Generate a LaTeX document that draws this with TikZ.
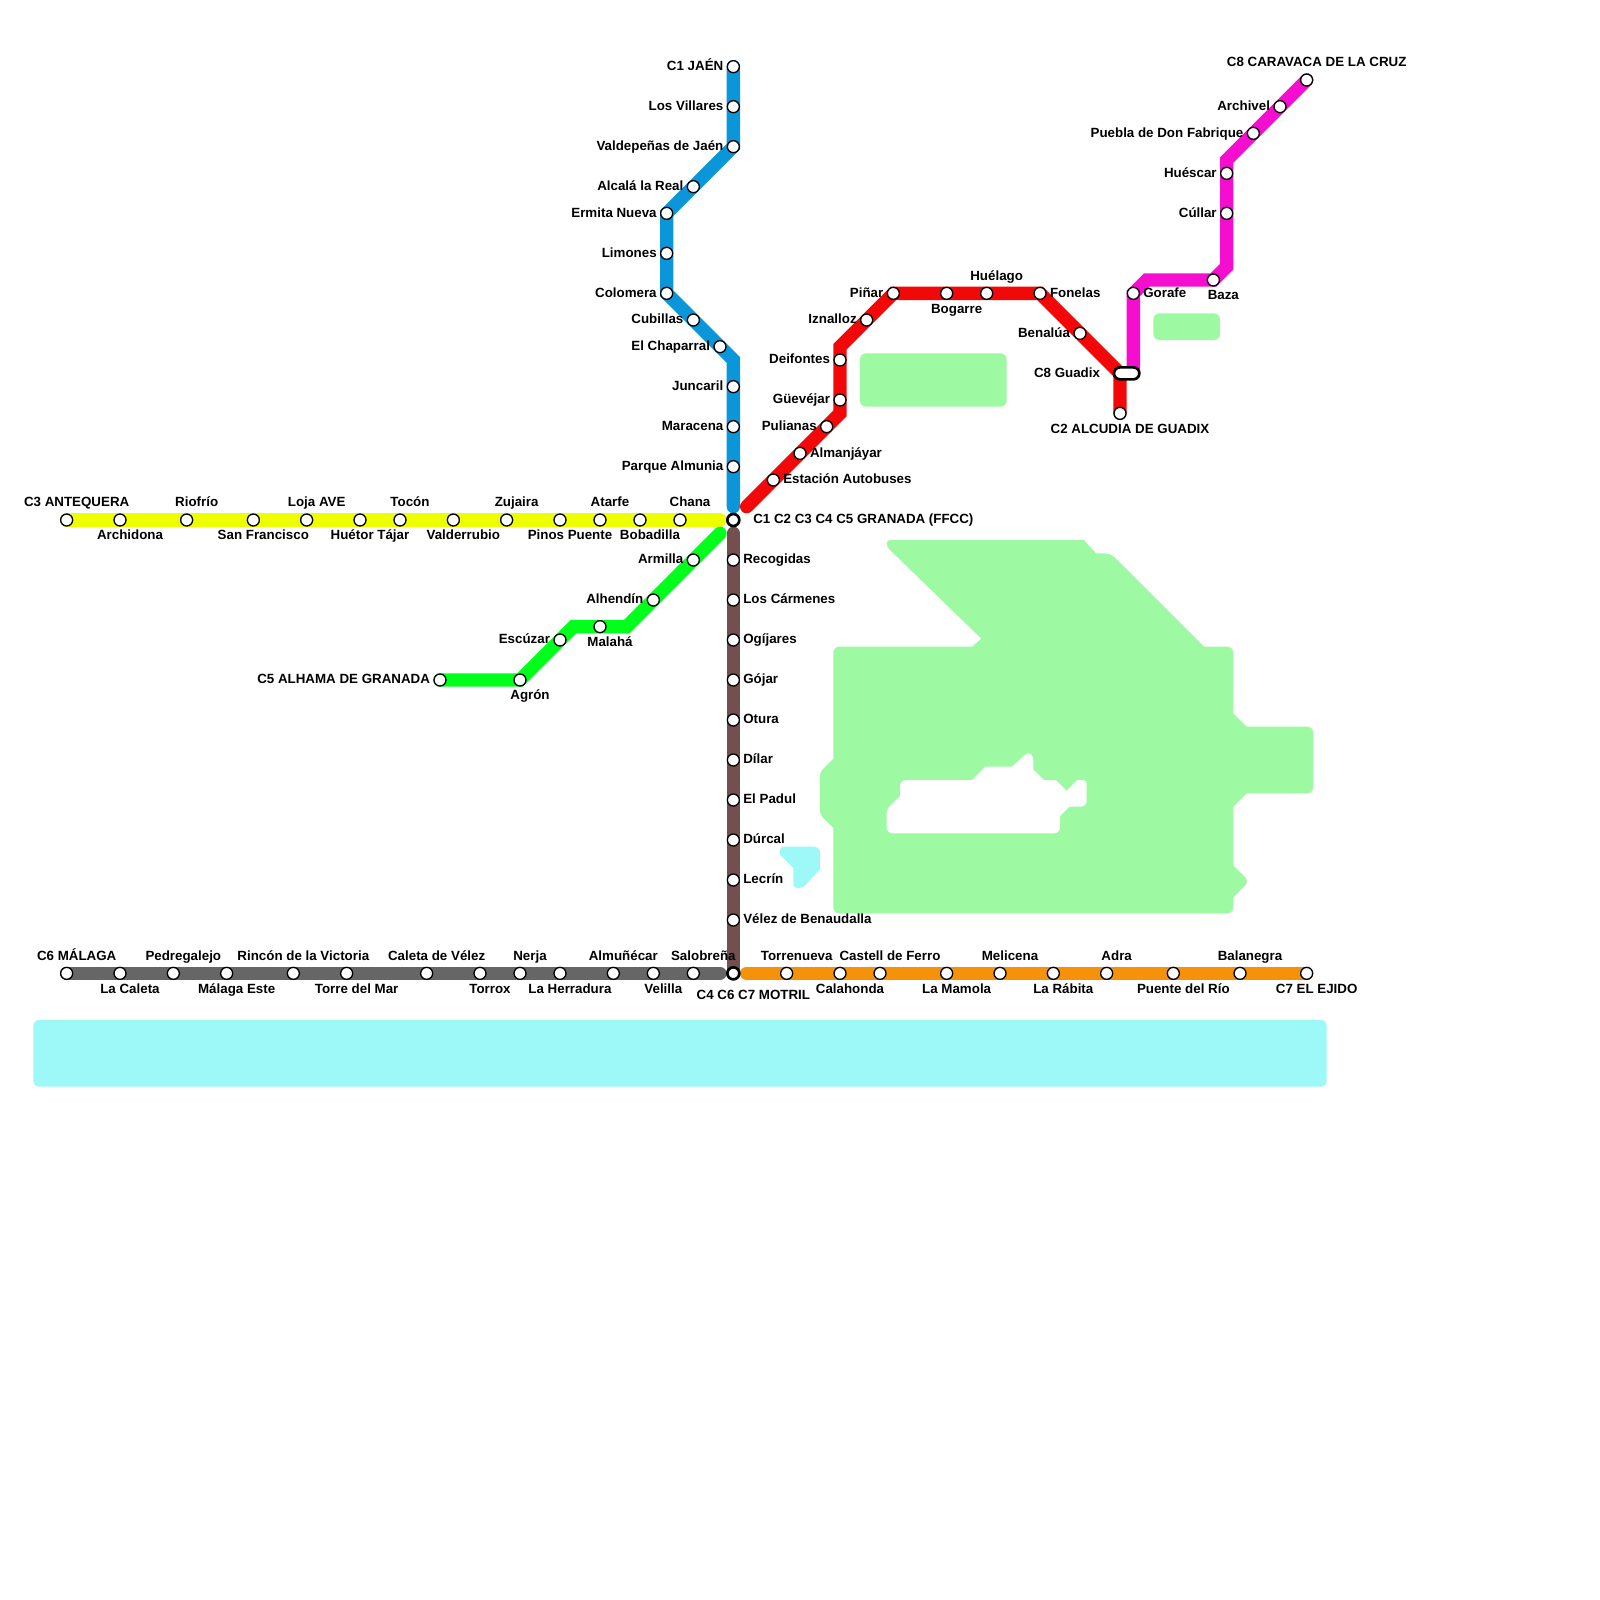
\documentclass[tikz,border=0pt]{standalone}
\usepackage{fontspec}
\setmainfont{Liberation Sans}
\pgfdeclarelayer{areas}
\pgfdeclarelayer{lines}
\pgfsetlayers{areas,lines,main}
\tikzset{
  stn/.style={circle,draw=black,fill=white,line width=0.67pt,inner sep=0pt,outer sep=0pt,minimum size=6pt},
  hub/.style={stn,line width=1.33pt},
  pill/.style={rectangle,draw=black,fill=white,line width=1.33pt,inner sep=0pt,outer sep=0pt,minimum width=12.67pt,minimum height=6pt,rounded corners=3pt},
  lbl/.style={inner sep=0pt,outer sep=0pt,font=\fontsize{6.67pt}{8pt}\selectfont\bfseries,text=black},
  metro/.style={line width=6.67pt,line cap=round,line join=miter},
  cv/.style={rounded corners=3pt},
  cs/.style={rounded corners=1.8pt},
  cc/.style={sharp corners},
  landarea/.style={fill=landgreen},
  seaarea/.style={fill=seacyan},
}
\definecolor{cyellow}{HTML}{EEFF00}
\definecolor{cblue}{HTML}{0A96D8}
\definecolor{cred}{HTML}{F20808}
\definecolor{cmag}{HTML}{F50DD0}
\definecolor{cgreen}{HTML}{00FF1A}
\definecolor{cbrown}{HTML}{734F4F}
\definecolor{cgray}{HTML}{666666}
\definecolor{corange}{HTML}{F5920A}
\definecolor{landgreen}{HTML}{9EF9A3}
\definecolor{seacyan}{HTML}{9DF8F8}
% station: name, x, y, label
\newcommand\stL[4]{\node[stn] (#1) at (#2,#3) {}; \node[lbl,anchor=base east] (#1t) at ([xshift=-5pt,yshift=-1.9pt]#1.center) {#4};}
\newcommand\stR[4]{\node[stn] (#1) at (#2,#3) {}; \node[lbl,anchor=base west] (#1t) at ([xshift=5pt,yshift=-1.9pt]#1.center) {#4};}
\newcommand\stA[4]{\node[stn] (#1) at (#2,#3) {}; \node[lbl,anchor=base] (#1t) at ([xshift=5pt,yshift=6.6pt]#1.center) {#4};}
\newcommand\stB[4]{\node[stn] (#1) at (#2,#3) {}; \node[lbl,anchor=base] (#1t) at ([xshift=5pt,yshift=-9.9pt]#1.center) {#4};}
\begin{document}
\begin{tikzpicture}[x=6.6667pt,y=-6.6667pt]
\useasboundingbox (0,0) rectangle (120,120);
% hubs
\node[hub] (granada) at (55,39) {};
\node[lbl,anchor=base west] (granadat) at ([xshift=10pt,yshift=-1.9pt]granada.center) {C1 C2 C3 C4 C5 GRANADA (FFCC)};
\node[hub] (motril) at (55,73) {};
\node[lbl,anchor=base] (motrilt) at ([xshift=10pt,yshift=-13pt]motril.center) {C4 C6 C7 MOTRIL};
\node[pill] (guadix) at (84.5,28) {};
\coordinate (guadixr) at (84,28);
\coordinate (guadixm) at (85,28);
\node[lbl,anchor=base east] (guadixt) at ([xshift=-10pt,yshift=-1.9pt]guadixr) {C8 Guadix};
% C3
\stA{ya}{5}{39}{C3 ANTEQUERA}
\stB{yb}{9}{39}{Archidona}
\stA{yc}{14}{39}{Riofrío}
\stB{yd}{19}{39}{San Francisco}
\stA{ye}{23}{39}{Loja AVE}
\stB{yf}{27}{39}{Huétor Tájar}
\stA{yg}{30}{39}{Tocón}
\stB{yh}{34}{39}{Valderrubio}
\stA{yi}{38}{39}{Zujaira}
\stB{yj}{42}{39}{Pinos Puente}
\stA{yk}{45}{39}{Atarfe}
\stB{yl}{48}{39}{Bobadilla}
\stA{ym}{51}{39}{Chana}
\coordinate (yend) at (54,39);
% C1
\stL{ba}{55}{5}{C1 JAÉN}
\stL{bb}{55}{8}{Los Villares}
\stL{bc}{55}{11}{Valdepeñas de Jaén}
\stL{bd}{52}{14}{Alcalá la Real}
\stL{be}{50}{16}{Ermita Nueva}
\stL{bf}{50}{19}{Limones}
\stL{bg}{50}{22}{Colomera}
\stL{bh}{52}{24}{Cubillas}
\stL{bi}{54}{26}{El Chaparral}
\coordinate (bk) at (55,27);
\stL{bj}{55}{29}{Juncaril}
\stL{bl}{55}{32}{Maracena}
\stL{bm}{55}{35}{Parque Almunia}
\coordinate (bend) at (55,38);
% C2
\coordinate (rstart) at (56,38);
\stR{ra}{58}{36}{Estación Autobuses}
\stR{rb}{60}{34}{Almanjáyar}
\stL{rc}{62}{32}{Pulianas}
\coordinate (rk1) at (63,31);
\stL{rd}{63}{30}{Güevéjar}
\stL{re}{63}{27}{Deifontes}
\coordinate (rk2) at (63,26);
\stL{rf}{65}{24}{Iznalloz}
\stL{rg}{67}{22}{Piñar}
\stB{rh}{71}{22}{Bogarre}
\stA{ri}{74}{22}{Huélago}
\stR{rj}{78}{22}{Fonelas}
\stL{rk}{81}{25}{Benalúa}
\stB{rl}{84}{31}{C2 ALCUDIA DE GUADIX}
% C8
\stR{ma}{85}{22}{Gorafe}
\coordinate (mk1) at (86,21);
\stB{mb}{91}{21}{Baza}
\coordinate (mk2) at (92,20);
\stL{mc}{92}{16}{Cúllar}
\stL{md}{92}{13}{Huéscar}
\coordinate (mk3) at (92,12);
\stL{me}{94}{10}{Puebla de Don Fabrique}
\stL{mf}{96}{8}{Archivel}
\stA{mg}{98}{6}{C8 CARAVACA DE LA CRUZ}
% C5
\coordinate (gstart) at (54,40);
\stL{ga}{52}{42}{Armilla}
\stL{gb}{49}{45}{Alhendín}
\coordinate (gk1) at (47,47);
\stB{gc}{45}{47}{Malahá}
\coordinate (gk2) at (43,47);
\stL{gd}{42}{48}{Escúzar}
\stB{ge}{39}{51}{Agrón}
\stL{gf}{33}{51}{C5 ALHAMA DE GRANADA}
% C4
\coordinate (nstart) at (55,40);
\stR{na}{55}{42}{Recogidas}
\stR{nb}{55}{45}{Los Cármenes}
\stR{nc}{55}{48}{Ogíjares}
\stR{nd}{55}{51}{Gójar}
\stR{ne}{55}{54}{Otura}
\stR{nf}{55}{57}{Dílar}
\stR{ng}{55}{60}{El Padul}
\stR{nh}{55}{63}{Dúrcal}
\stR{ni}{55}{66}{Lecrín}
\stR{nj}{55}{69}{Vélez de Benaudalla}
% C6
\stA{ka}{5}{73}{C6 MÁLAGA}
\stB{kb}{9}{73}{La Caleta}
\stA{kc}{13}{73}{Pedregalejo}
\stB{kd}{17}{73}{Málaga Este}
\stA{ke}{22}{73}{Rincón de la Victoria}
\stB{kf}{26}{73}{Torre del Mar}
\stA{kg}{32}{73}{Caleta de Vélez}
\stB{kh}{36}{73}{Torrox}
\stA{ki}{39}{73}{Nerja}
\stB{kj}{42}{73}{La Herradura}
\stA{kk}{46}{73}{Almuñécar}
\stB{kl}{49}{73}{Velilla}
\stA{km}{52}{73}{Salobreña}
\coordinate (kend) at (54,73);
% C7
\coordinate (ostart) at (56,73);
\stA{oa}{59}{73}{Torrenueva}
\stB{ob}{63}{73}{Calahonda}
\stA{oc}{66}{73}{Castell de Ferro}
\stB{od}{71}{73}{La Mamola}
\stA{oe}{75}{73}{Melicena}
\stB{of}{79}{73}{La Rábita}
\stA{og}{83}{73}{Adra}
\stB{oh}{88}{73}{Puente del Río}
\stA{oi}{93}{73}{Balanegra}
\stB{oj}{98}{73}{C7 EL EJIDO}

\begin{pgfonlayer}{lines}
\draw[metro,cyellow] (ya.center)--(yb.center)--(yc.center)--(yd.center)--(ye.center)--(yf.center)--(yg.center)--(yh.center)--(yi.center)--(yj.center)--(yk.center)--(yl.center)--(ym.center)--(yend);
\draw[metro,cblue] (ba.center)--(bb.center)--(bc.center)--(bd.center)--(be.center)--(bf.center)--(bg.center)--(bh.center)--(bi.center)--(bk)--(bj.center)--(bl.center)--(bm.center)--(bend);
\draw[metro,cred] (rstart)--(ra.center)--(rb.center)--(rc.center)--(rk1)--(rd.center)--(re.center)--(rk2)--(rf.center)--(rg.center)--(rh.center)--(ri.center)--(rj.center)--(rk.center)--(guadixr)--(rl.center);
\draw[metro,cmag] (guadixm)--(ma.center)--(mk1)--(mb.center)--(mk2)--(mc.center)--(md.center)--(mk3)--(me.center)--(mf.center)--(mg.center);
\draw[metro,cgreen] (gstart)--(ga.center)--(gb.center)--(gk1)--(gc.center)--(gk2)--(gd.center)--(ge.center)--(gf.center);
\draw[metro,cbrown] (nstart)--(na.center)--(nb.center)--(nc.center)--(nd.center)--(ne.center)--(nf.center)--(ng.center)--(nh.center)--(ni.center)--(nj.center)--(motril.center);
\draw[metro,cgray] (ka.center)--(kb.center)--(kc.center)--(kd.center)--(ke.center)--(kf.center)--(kg.center)--(kh.center)--(ki.center)--(kj.center)--(kk.center)--(kl.center)--(km.center)--(kend);
\draw[metro,corange] (ostart)--(oa.center)--(ob.center)--(oc.center)--(od.center)--(oe.center)--(of.center)--(og.center)--(oh.center)--(oi.center)--(oj.center);
\end{pgfonlayer}

\begin{pgfonlayer}{areas}
% main land: the option before a vertex sets how that vertex is rounded
\fill[landarea] (70,40.5) [cc] -- (81.3,40.5) [cc] -- (82.2,41.5) [cv] -- (83.3,41.5) [cc] -- (90.3,48.5) [cv] -- (92.5,48.5) [cc] -- (92.5,53.5) [cc] -- (93.5,54.5) [cv] -- (98.5,54.5) [cv] -- (98.5,59.5) [cc] -- (93.5,59.5) [cc] -- (92.5,60.5) [cc] -- (92.5,64.9) [cv] -- (93.7,66.1) [cc] -- (92.5,67.3) [cv] -- (92.5,68.5) [cv] -- (62.5,68.5) [cc] -- (62.5,62.1) [cs] -- (61.5,61.1) [cs] -- (61.5,57.9) [cc] -- (62.5,56.9) [cv] -- (62.5,48.5) [cc] -- (72.9,48.5) [cc] -- (73.6,47.9) [cs] -- (66.5,41) [cs] -- (66.5,40.5) [cc] -- cycle;
% gap in the land
\fill[white] (70,62.5) [cv] -- (66.5,62.5) [cs] -- (66.5,60.7) [cc] -- (67.5,59.7) [cv] -- (67.5,58.5) [cc] -- (72.9,58.5) [cc] -- (73.9,57.5) [cc] -- (75.9,57.5) [cs] -- (77.1,56.4) [cs] -- (77.5,56.7) [cc] -- (77.5,57.7) [cc] -- (78.3,58.5) [cc] -- (79.2,58.5) [cc] -- (80,59.3) [cc] -- (80.8,58.5) [cs] -- (81.5,58.5) [cv] -- (81.5,60.5) [cc] -- (80.2,60.5) [cc] -- (79.5,61.2) [cv] -- (79.5,62.5) [cc] -- cycle;
\fill[landarea,rounded corners=3pt] (64.5,26.5) rectangle (75.5,30.5);
\fill[landarea,rounded corners=3pt] (86.5,23.5) rectangle (91.5,25.5);
\fill[seaarea,rounded corners=3pt] (2.5,76.5) rectangle (99.5,81.5);
\fill[seaarea] (60,63.5) [cv] -- (61.5,63.5) [cc] -- (61.5,65.2) [cs] -- (60.2,66.6) [cs] -- (59.5,66.6) [cc] -- (59.5,65.1) [cc] -- (58.5,64.1) [cs] -- (58.5,63.5) [cc] -- cycle;
\end{pgfonlayer}
\end{tikzpicture}
\end{document}
